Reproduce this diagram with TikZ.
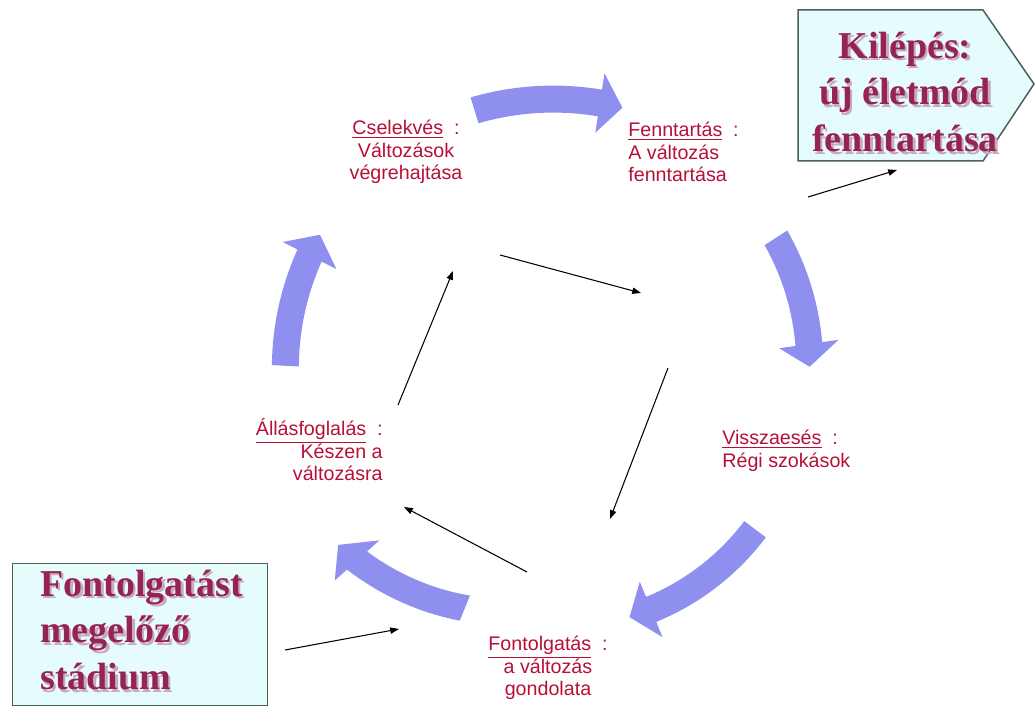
\documentclass[tikz,border=0pt]{standalone}
\usepackage{fontspec}
\setmainfont{Liberation Serif}
\newfontfamily\labelfont{Liberation Sans}
\usetikzlibrary{arrows.meta}

\definecolor{cycfill}{RGB}{143,143,240}
\definecolor{lbl}{RGB}{182,16,56}
\definecolor{boxtxt}{RGB}{150,35,85}
\definecolor{boxshadow}{RGB}{200,172,186}
\definecolor{boxfill}{RGB}{230,252,252}
\definecolor{boxline}{RGB}{75,95,95}

% centre of the cycle and shape of the broad curved arrows (pixel units)
\def\ringx{557}
\def\ringy{380}
\def\bodyw{27}
\def\headw{60}
\def\headl{23}

% broad curved arrow: start angle, end angle, start radius, end radius
\newcommand\cyclearrow[4]{%
  \pgfmathsetmacro\aS{#1}\pgfmathsetmacro\aE{#2}%
  \pgfmathsetmacro\rS{#3}\pgfmathsetmacro\rE{#4}%
  \pgfmathsetmacro\aH{\aE-\headl/((\rS+\rE)/2)*180/pi}%
  \pgfmathsetmacro\rH{\rS+(\rE-\rS)*(\aH-\aS)/(\aE-\aS)}%
  \fill[cycfill]
    plot[domain=\aS:\aH,samples=30]
      ({\ringx+(\rS+(\rE-\rS)*(\x-\aS)/(\aE-\aS)+\bodyw/2)*cos(\x)},
       {\ringy+(\rS+(\rE-\rS)*(\x-\aS)/(\aE-\aS)+\bodyw/2)*sin(\x)})
    -- ({\ringx+(\rH+\headw/2)*cos(\aH)},{\ringy+(\rH+\headw/2)*sin(\aH)})
    -- ({\ringx+\rE*cos(\aE)},{\ringy+\rE*sin(\aE)})
    -- ({\ringx+(\rH-\headw/2)*cos(\aH)},{\ringy+(\rH-\headw/2)*sin(\aH)})
    -- plot[domain=\aH:\aS,samples=30]
      ({\ringx+(\rS+(\rE-\rS)*(\x-\aS)/(\aE-\aS)-\bodyw/2)*cos(\x)},
       {\ringy+(\rS+(\rE-\rS)*(\x-\aS)/(\aE-\aS)-\bodyw/2)*sin(\x)})
    -- cycle;}

% a stage name, underlined and followed by its colon
\newcommand\stagename[1]{\underline{#1}\hspace{0.55em}:}

\tikzset{
  lab/.style={font=\labelfont\fontsize{11.2}{12.8}\selectfont, text=lbl, inner sep=0pt},
  bigtxt/.style={font=\bfseries\fontsize{21.6}{26.6}\selectfont, text=boxtxt, inner sep=0pt},
  bigshadow/.style={bigtxt, text=boxshadow},
  stagebox/.style={draw=boxline, fill=boxfill, line width=0.85pt},
  thinarrow/.style={draw=black, line width=0.6pt, -{Triangle[length=5pt,width=3.6pt]}}
}

\begin{document}
\begin{tikzpicture}[x=0.02cm, y=-0.02cm]
\useasboundingbox (0,0) rectangle (1035,709);

% the five broad arrows of the cycle
\cyclearrow{-107}{-76.5}{282}{280}
\cyclearrow{-33}{-3}{261}{253}
\cyclearrow{37}{73}{248}{248}
\cyclearrow{112}{143}{246}{274}
\cyclearrow{183}{211.5}{272}{278}

% stage labels
\node[lab, align=center] (act) at (406,152)
  {\stagename{Cselekvés}\\Változások\\végrehajtása};
\node[lab, align=left, anchor=west] (maint) at (628,152)
  {\stagename{Fenntartás}\\A változás\\fenntartása};
\node[lab, align=left, anchor=west] (relapse) at (722,451)
  {\stagename{Visszaesés}\\Régi szokások};
\node[lab, align=center] (contemp) at (548,668)
  {\stagename{Fontolgatás}\\a változás\\gondolata};
\node[lab, align=right, anchor=east] (prep) at (383,450)
  {\stagename{Állásfoglalás}\\Készen a\\változásra};

% exit box
\coordinate (x1) at (798,10);
\coordinate (x2) at (983,10);
\coordinate (x3) at (1034,84);
\coordinate (x4) at (983,161);
\coordinate (x5) at (798,161);
\draw[stagebox] (x1) -- (x2) -- (x3) -- (x4) -- (x5) -- cycle;
\node[bigshadow, align=center] at (907.5,94.5) {Kilépés:\\új életmód\\fenntartása};
\node[bigtxt, align=center] (exit) at (905,92) {Kilépés:\\új életmód\\fenntartása};

% precontemplation box
\node[stagebox, minimum width=255*0.02cm, minimum height=142*0.02cm, anchor=north west,
      inner sep=0pt] (pre) at (12,563) {};
\node[bigshadow, align=left, anchor=west] at (42.5,632.5) {Fontolgatást\\megelőző\\stádium};
\node[bigtxt, align=left, anchor=west] (pretxt) at (40,630) {Fontolgatást\\megelőző\\stádium};

% thin connecting arrows
\coordinate (e1) at (808,197);  \coordinate (e2) at (897,170);
\coordinate (f1) at (500,255);  \coordinate (f2) at (641,293);
\coordinate (g1) at (668,368);  \coordinate (g2) at (610,519);
\coordinate (h1) at (527,572);  \coordinate (h2) at (404,507);
\coordinate (i1) at (398,405);  \coordinate (i2) at (453,271);
\coordinate (j1) at (285,650);  \coordinate (j2) at (399,629);
\draw[thinarrow] (e1) -- (e2);
\draw[thinarrow] (f1) -- (f2);
\draw[thinarrow] (g1) -- (g2);
\draw[thinarrow] (h1) -- (h2);
\draw[thinarrow] (i1) -- (i2);
\draw[thinarrow] (j1) -- (j2);
\end{tikzpicture}
\end{document}
